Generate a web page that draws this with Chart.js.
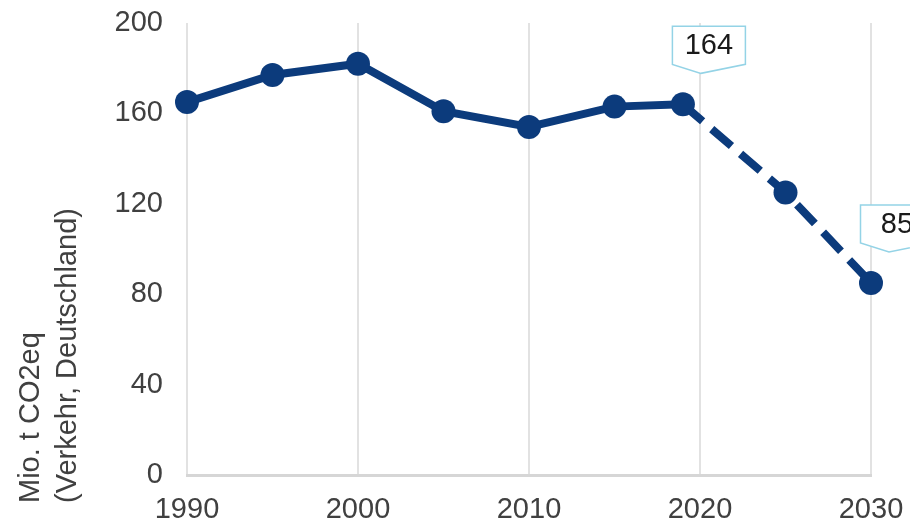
<!DOCTYPE html>
<html>
<head>
<meta charset="utf-8">
<script src="https://cdn.jsdelivr.net/npm/chart.js@4"></script>
<style>
    body { margin: 0; background: #fff; }
    #wrap { width: 910px; height: 523px; }
</style>
</head>
<body>
<div id="wrap"><canvas id="emissionsChart" width="910" height="523"></canvas></div>
<script>
// Données : émissions du secteur des transports en Allemagne
const years = [1990, 1995, 2000, 2005, 2010, 2015, 2019, 2025, 2030];
const emissions = [165, 177, 182, 161, 154, 163, 164, 125, 85];
const forecastStart = 6; // index of 2019, dashed from here on
const labelledPoints = [6, 8];
const labelTexts = ['164', '85'];
const yTitle = ['Mio. t CO2eq', '(Verkehr, Deutschland)'];
const xTicks = [1990, 2000, 2010, 2020, 2030];
const yTicks = [0, 40, 80, 120, 160, 200];

const navy = '#0c3b7c';
const fontFamily = '"Liberation Sans", Arial, sans-serif';

// Étiquettes en forme de bulle au-dessus des points
const calloutPlugin = {
    id: 'callouts',
    afterDatasetsDraw(chart) {
        const ctx = chart.ctx;
        const meta = chart.getDatasetMeta(0);
        ctx.save();
        labelledPoints.forEach((index, i) => {
            const pt = meta.data[index];
            const cx = pt.x + 26;
            const bottom = pt.y - 40;
            const w = 73, h = 38, tip = 9;
            const left = cx - w / 2, top = bottom - h;
            ctx.beginPath();
            ctx.moveTo(left, top);
            ctx.lineTo(left + w, top);
            ctx.lineTo(left + w, bottom);
            ctx.lineTo(cx - 8, bottom + tip);
            ctx.lineTo(left, bottom);
            ctx.closePath();
            ctx.fillStyle = '#ffffff';
            ctx.fill();
            ctx.strokeStyle = '#94d3e6';
            ctx.lineWidth = 1.5;
            ctx.stroke();
            ctx.fillStyle = '#1a1a1a';
            ctx.font = '29px ' + fontFamily;
            ctx.textAlign = 'center';
            ctx.textBaseline = 'middle';
            ctx.fillText(labelTexts[i], cx, top + h / 2 + 1);
        });
        ctx.restore();
    }
};

// Titre de l'axe Y sur deux lignes, aligné en bas
const yTitlePlugin = {
    id: 'yTitle',
    afterDraw(chart) {
        const ctx = chart.ctx;
        ctx.save();
        ctx.fillStyle = '#404040';
        ctx.font = '29px ' + fontFamily;
        ctx.textAlign = 'left';
        ctx.textBaseline = 'alphabetic';
        [39, 76].forEach((x, i) => {
            ctx.save();
            ctx.translate(x, 503);
            ctx.rotate(-Math.PI / 2);
            ctx.fillText(yTitle[i], 0, 0);
            ctx.restore();
        });
        ctx.restore();
    }
};

const ctx = document.getElementById('emissionsChart').getContext('2d');
const emissionsChart = new Chart(ctx, {
    type: 'line',
    data: {
        datasets: [{
            data: years.map((year, i) => ({ x: year, y: emissions[i] })),
            borderColor: navy,
            backgroundColor: navy,
            borderWidth: 8,
            borderCapStyle: 'butt',
            pointRadius: 12,
            pointBackgroundColor: navy,
            pointBorderWidth: 0,
            tension: 0,
            clip: false,
            segment: {
                borderDash: c => c.p0DataIndex >= forecastStart ? [26, 12] : undefined
            }
        }]
    },
    options: {
        responsive: false,
        animation: false,
        layout: { autoPadding: false, padding: { top: 23, right: 39, left: 0, bottom: 0 } },
        plugins: {
            legend: { display: false },
            tooltip: { enabled: false }
        },
        scales: {
            x: {
                type: 'linear',
                min: xTicks[0],
                max: xTicks[xTicks.length - 1],
                afterBuildTicks: scale => { scale.ticks = xTicks.map(v => ({ value: v })); },
                afterFit: scale => { scale.height = 48; },
                // invisible tick marks give the label offset without extra side padding
                grid: { color: '#e2e2e2', lineWidth: 2, drawTicks: true, tickLength: 18, tickColor: 'rgba(0,0,0,0)' },
                border: { color: '#d6d6d6', width: 3 },
                ticks: {
                    color: '#404040',
                    font: { size: 29, family: fontFamily },
                    padding: 0,
                    maxRotation: 0,
                    callback: v => String(v)
                }
            },
            y: {
                min: yTicks[0],
                max: yTicks[yTicks.length - 1],
                afterBuildTicks: scale => { scale.ticks = yTicks.map(v => ({ value: v })); },
                afterFit: scale => { scale.width = 187; },
                grid: { display: false, drawTicks: true, tickLength: 24 },
                border: { display: false },
                ticks: {
                    color: '#404040',
                    font: { size: 29, family: fontFamily },
                    padding: 0
                }
            }
        }
    },
    plugins: [calloutPlugin, yTitlePlugin]
});
</script>
</body>
</html>
